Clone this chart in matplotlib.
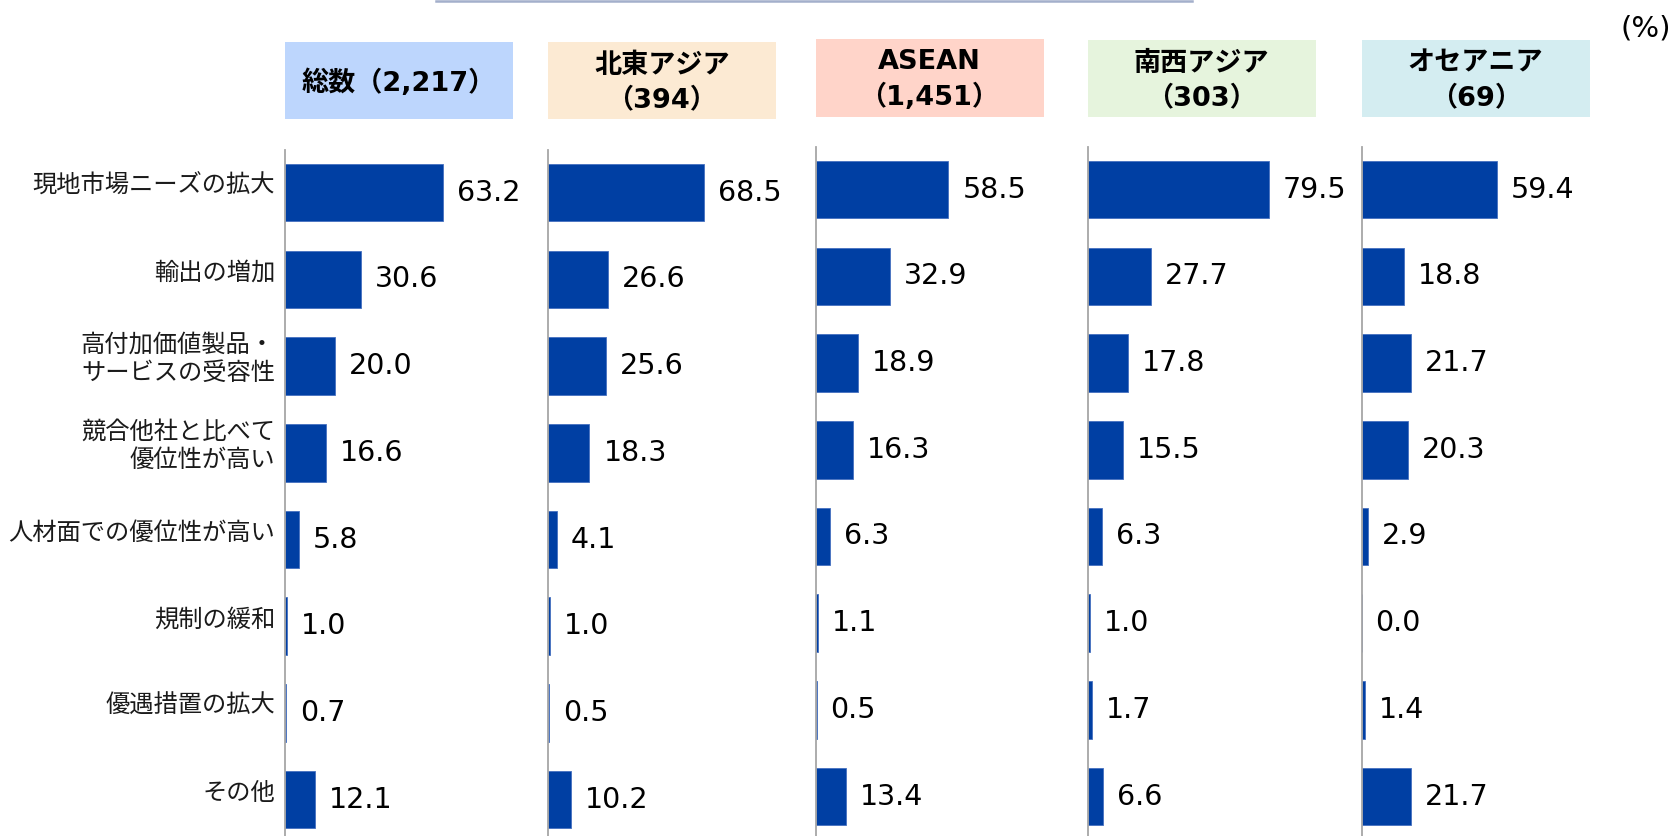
import matplotlib
matplotlib.use("Agg")
import matplotlib.pyplot as plt
from matplotlib.patches import Rectangle
from matplotlib.lines import Line2D
import matplotlib.transforms as mtransforms

# ---------------- data ----------------
categories = ['現地市場ニーズの拡大', '輸出の増加', '高付加価値製品・\nサービスの受容性',
              '競合他社と比べて\n優位性が高い', '人材面での優位性が高い', '規制の緩和',
              '優遇措置の拡大', 'その他']
panel_titles = ['総数（2,217）', '北東アジア\n（394）', 'ASEAN\n（1,451）',
                '南西アジア\n（303）', 'オセアニア\n（69）']
total = [63.2, 30.6, 20.0, 16.6, 5.8, 1.0, 0.7, 12.1]
ne_asia = [68.5, 26.6, 25.6, 18.3, 4.1, 1.0, 0.5, 10.2]
asean = [58.5, 32.9, 18.9, 16.3, 6.3, 1.1, 0.5, 13.4]
sw_asia = [79.5, 27.7, 17.8, 15.5, 6.3, 1.0, 1.7, 6.6]
oceania = [59.4, 18.8, 21.7, 20.3, 2.9, 0.0, 1.4, 21.7]
series = [total, ne_asia, asean, sw_asia, oceania]
unit_label = '(%)'

# ---------------- style ----------------
W, H = 1677, 836
DPI = 100
fig = plt.figure(figsize=(W / DPI, H / DPI), dpi=DPI)

box_colors = ['#BDD6FD', '#FCEAD3', '#FFD4C9', '#E6F4DD', '#D4EDF1']
bar_color = '#003FA3'
bar_edge = '#4570C0'
axis_gray = '#A6A6A6'

panel_x = [284.5, 547.9, 815.5, 1087.8, 1361.6]
panel_w = 228.0
panel_top = [150, 150, 147, 147, 147]        # top of axis line (px)
row0_center = [192.7, 192.7, 189.7, 189.7, 189.7]
row_step = 86.7
bar_h = 57.5 / row_step
xmax = [91.0, 100.3, 100.3, 100.3, 100.3]
box_y = [(42.3, 119.3), (42.3, 119.3), (38.5, 116.6), (40.0, 116.6), (40.0, 116.6)]

jp = ['Noto Sans CJK JP']
mixed = ['DejaVu Sans', 'Noto Sans CJK JP']


def fig_rect(x0, ytop, w, h):
    return [x0 / W, 1 - (ytop + h) / H, w / W, h / H]


n = len(categories)
for i, vals in enumerate(series):
    top = panel_top[i]
    h = H - top
    ax = fig.add_axes(fig_rect(panel_x[i], top, panel_w, h))
    y_top = -(row0_center[i] - top) / row_step
    y_bot = (H - row0_center[i]) / row_step
    ax.set_ylim(y_bot, y_top)
    ax.set_xlim(0, xmax[i])
    ypos = list(range(n))
    ax.barh(ypos, vals, height=bar_h, color=bar_color, edgecolor=bar_edge,
            linewidth=0.6)
    for y, v in zip(ypos, vals):
        ax.annotate(f'{v:.1f}', xy=(v, y), xytext=(10.0, 0),
                    textcoords='offset points', ha='left', va='center',
                    fontsize=20.5, family='DejaVu Sans', color='black')
    for s in ['top', 'right', 'bottom']:
        ax.spines[s].set_visible(False)
    ax.spines['left'].set_color(axis_gray)
    ax.spines['left'].set_linewidth(1.3)
    ax.set_xticks([])
    ax.set_yticks([])
    ax.patch.set_alpha(0)

    if i == 0:
        trans = mtransforms.blended_transform_factory(ax.transAxes, ax.transData)
        trans = trans + mtransforms.ScaledTranslation(-9.5 / DPI, 7 / DPI,
                                                      fig.dpi_scale_trans)
        for y, c in zip(ypos, categories):
            ax.text(0, y, c, transform=trans, ha='right', va='center',
                    multialignment='right', fontsize=17.5, family=jp,
                    linespacing=1.12, color='#1a1a1a')

    # header box
    by0, by1 = box_y[i]
    bx0 = panel_x[i]
    fig.patches.append(Rectangle(((bx0) / W, 1 - by1 / H), panel_w / W,
                                 (by1 - by0) / H, transform=fig.transFigure,
                                 facecolor=box_colors[i], edgecolor='none'))
    fig.text((bx0 + panel_w / 2) / W, 1 - ((by0 + by1) / 2 + 2.5) / H,
             panel_titles[i], ha='center', va='center', fontsize=19.5,
             fontweight='bold', family=mixed, linespacing=1.4,
             multialignment='center')

# top decorative line
fig.add_artist(Line2D([436 / W, 1192 / W], [1 - 1.2 / H, 1 - 1.2 / H],
                      transform=fig.transFigure, color='#A3AFCB', linewidth=1.8))

# unit label
fig.text(1646 / W, 1 - 29 / H, unit_label, ha='center', va='center',
         fontsize=21, family='DejaVu Sans', color='black')

fig.savefig('out.png', dpi=DPI)
